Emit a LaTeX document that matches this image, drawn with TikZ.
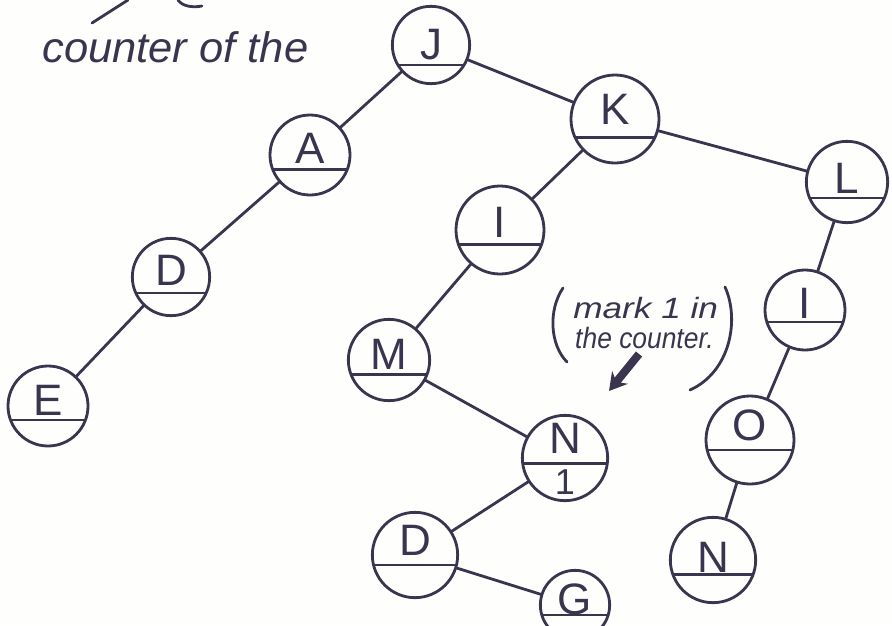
\documentclass[tikz,border=0pt]{standalone}
\usepackage{fontspec}
\setmainfont{Liberation Sans}
\usetikzlibrary{arrows.meta}
\definecolor{inkc}{RGB}{58,52,78}
\definecolor{paper}{RGB}{254,254,252}
\begin{document}
\begin{tikzpicture}[x=0.75pt,y=-0.75pt,
  ink/.style={draw=inkc,line width=2.1pt,line cap=round,line join=round},
  tnode/.style 2 args={circle,ink,inner sep=0pt,minimum size=#1,
    path picture={\draw[inkc,line width=2.1pt]
      ([yshift=-#2]path picture bounding box.west) --
      ([yshift=-#2]path picture bounding box.east);}},
  lbl/.style={text=inkc,font=\fontsize{33}{33}\selectfont},
  note/.style={text=inkc,font=\fontsize{22}{22}\itshape,anchor=base west,
    inner sep=0pt,transform shape}]
\fill[paper] (0,0) rectangle (892,625);
\clip (0,0) rectangle (892,625);

% tree nodes
\node[tnode={58pt}{15pt},label={[lbl,yshift=0pt]center:J}] (J) at (431,45) {};
\node[tnode={66pt}{14pt},label={[lbl,yshift=7pt]center:K}] (K) at (615,119) {};
\node[tnode={61pt}{12pt},label={[lbl,yshift=3pt]center:L}] (L) at (847,182) {};
\node[tnode={60pt}{11pt},label={[lbl,yshift=5pt]center:A}] (A) at (310,155) {};
\node[tnode={66pt}{11pt},label={[lbl,yshift=6pt]center:I}] (I1) at (500,230) {};
\node[tnode={58pt}{12pt},label={[lbl,yshift=5pt]center:D}] (D1) at (171,277) {};
\node[tnode={60pt}{10.5pt},label={[lbl,yshift=4.5pt]center:E}] (E) at (48,406) {};
\node[tnode={61pt}{11pt},label={[lbl,yshift=4pt]center:M}] (M) at (389,360) {};
\node[tnode={60pt}{9pt},label={[lbl,yshift=5pt]center:I}] (I2) at (805,310) {};
\node[tnode={66pt}{7.5pt},label={[lbl,yshift=11pt]center:O}] (O) at (750,440) {};
\node[tnode={64pt}{4pt},label={[lbl,yshift=15pt]center:N},
  label={[lbl,font=\fontsize{27}{27}\selectfont,yshift=-18pt]center:1}] (N1) at (565,458) {};
\node[tnode={64pt}{11pt},label={[lbl,yshift=2pt]center:N}] (N2) at (713,560) {};
\node[tnode={64pt}{7.5pt},label={[lbl,yshift=11pt]center:D}] (D2) at (415,555) {};
\node[tnode={52pt}{7.5pt},label={[lbl,yshift=4pt]center:G}] (G) at (575,605) {};

% edges
\draw[ink] (J) -- (A);
\draw[ink] (J) -- (K);
\draw[ink] (K) -- (I1);
\draw[ink] (K) -- (L);
\draw[ink] (A) -- (D1);
\draw[ink] (D1) -- (E);
\draw[ink] (I1) -- (M);
\draw[ink] (M) -- (N1);
\draw[ink] (N1) -- (D2);
\draw[ink] (D2) -- (G);
\draw[ink] (L) -- (I2);
\draw[ink] (I2) -- (O);
\draw[ink] (O) -- (N2);

% top-left note
\coordinate (tl1) at (92,23);
\coordinate (tl2) at (128,0);
\draw[ink] (tl1) -- (tl2);
\coordinate (ta1) at (178,0);
\coordinate (ta2) at (202,6);
\draw[ink] (ta1) .. controls (182,6) and (192,8) .. (ta2);
\node[text=inkc,font=\fontsize{32}{32}\itshape,anchor=base west,inner sep=0pt,
  xscale=1.02,transform shape] (cnt) at (42,62) {counter of the};

% side note with arrow
\node[note,xscale=1.2] (n1) at (573,318) {mark 1 in};
\node[note,xscale=0.9] (n2) at (575,348) {the counter.};
\coordinate (pl1) at (563,288);
\coordinate (pl2) at (567,362);
\draw[ink] (pl1) .. controls (548,310) and (550,345) .. (pl2);
\coordinate (pr1) at (725,287);
\coordinate (pr2) at (690,390);
\draw[ink] (pr1) .. controls (740,320) and (730,372) .. (pr2);
\coordinate (ar1) at (639,354);
\coordinate (ar2) at (609,391);
\draw[draw=inkc,line width=6pt,-{Stealth[length=13pt,width=15pt]}] (ar1) -- (ar2);
\end{tikzpicture}
\end{document}
